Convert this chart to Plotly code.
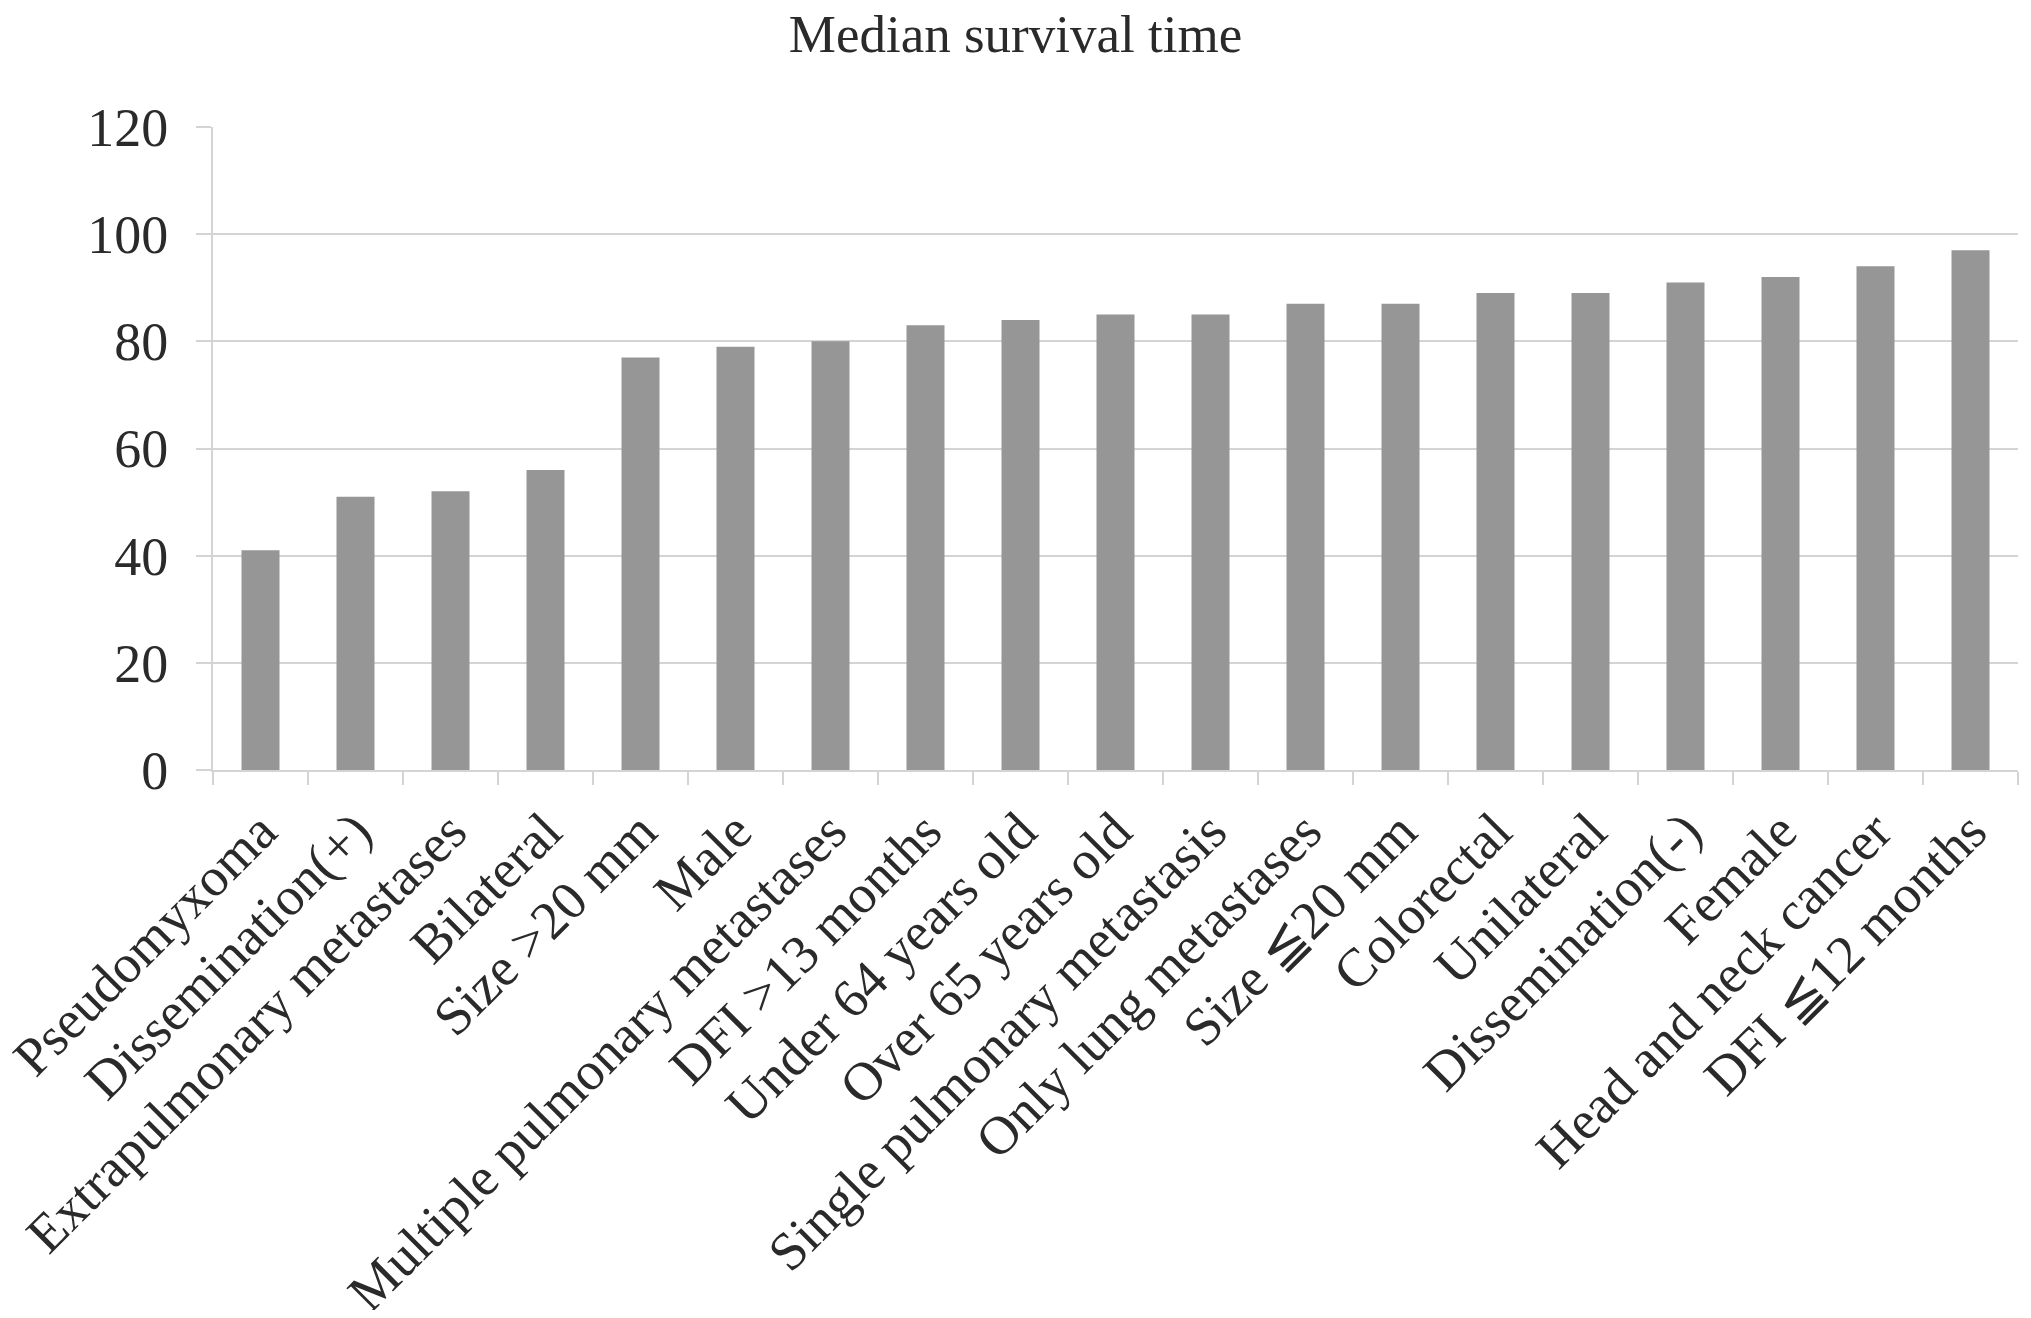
import plotly.graph_objects as go

categories = [
    "Pseudomyxoma", "Dissemination(+)", "Extrapulmonary metastases", "Bilateral",
    "Size >20 mm", "Male", "Multiple pulmonary metastases", "DFI >13 months",
    "Under 64 years old", "Over 65 years old", "Single pulmonary metastasis",
    "Only lung metastases", "Size ≦20 mm", "Colorectal", "Unilateral",
    "Dissemination(-)", "Female", "Head and neck cancer", "DFI ≦12 months",
]
values = [41, 51, 52, 56, 77, 79, 80, 83, 84, 85, 85, 87, 87, 89, 89, 91, 92, 94, 97]
y_ticks = [0, 20, 40, 60, 80, 100, 120]

FONT = "Liberation Serif, Times New Roman, serif"
TEXT = "#2a2a2a"
GRID = "#d4d4d4"

W, H = 2015, 1302  # page body has an 8px default margin

fig = go.Figure(go.Bar(x=categories, y=values, marker=dict(color="#969696", line=dict(width=0))))

fig.update_layout(
    width=W, height=H,
    paper_bgcolor="white", plot_bgcolor="white",
    margin=dict(l=205, r=5, t=119, b=540),
    bargap=0.6,
    showlegend=False,
    font=dict(family=FONT, color=TEXT, size=54),
    title=dict(text="Median survival time", x=0.5, xref="container", xanchor="center",
               y=1 - 25.5 / H, yanchor="middle",
               font=dict(family=FONT, size=53, color=TEXT)),
)

fig.update_xaxes(
    type="category", tickangle=-45, tickson="boundaries",
    ticks="outside", ticklen=13, tickcolor=GRID, tickwidth=2,
    showline=True, linecolor=GRID, linewidth=2,
    showgrid=False, automargin=False,
    tickfont=dict(family=FONT, size=54, color=TEXT),
    ticklabelstandoff=6,
)
fig.update_yaxes(
    range=[0, 120], tickvals=y_ticks,
    ticks="outside", ticklen=15, tickcolor=GRID, tickwidth=2,
    showline=True, linecolor=GRID, linewidth=2,
    showgrid=True, gridcolor=GRID, gridwidth=2,
    zeroline=False, automargin=False,
    tickfont=dict(family=FONT, size=54, color=TEXT),
    ticklabelstandoff=17,
)

fig.write_html("out.html")
